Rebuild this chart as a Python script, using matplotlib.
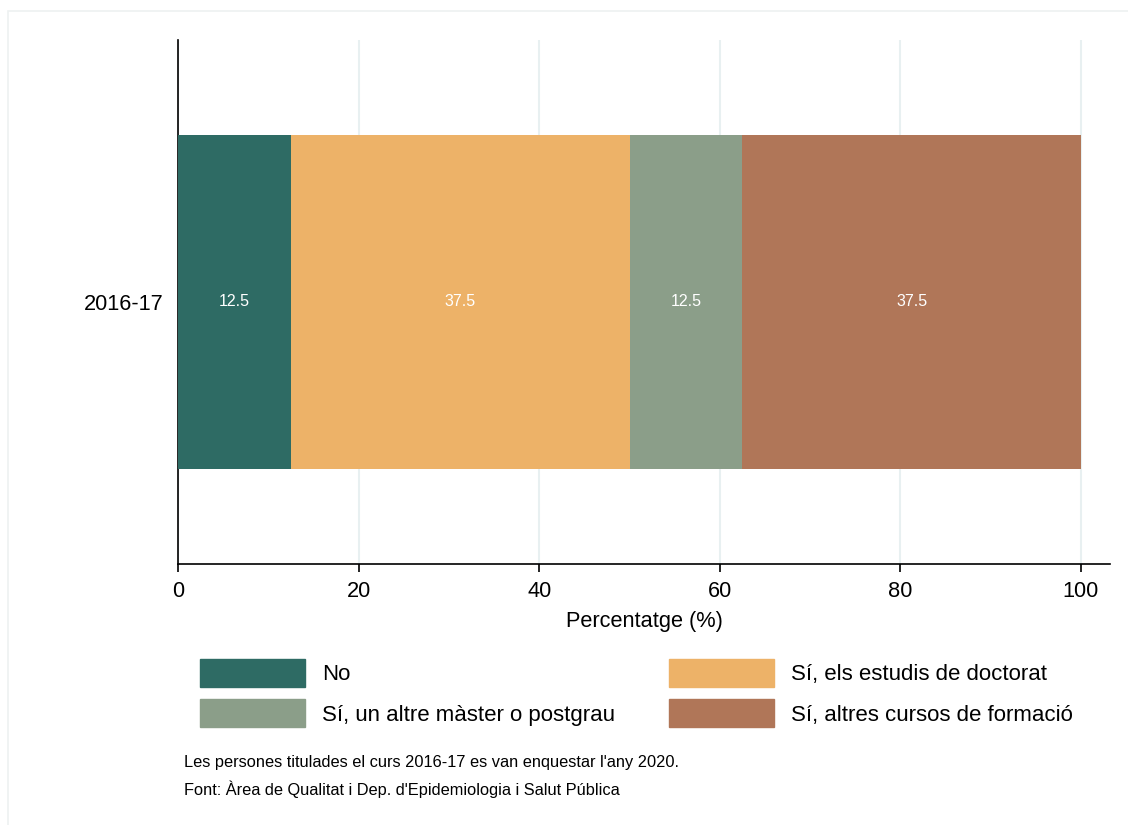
import matplotlib.pyplot as plt
from matplotlib.patches import Rectangle

plt.rcParams['font.family'] = ['Liberation Sans', 'DejaVu Sans']

years = ['2016-17']
categories = ['No', 'Sí, els estudis de doctorat',
              'Sí, un altre màster o postgrau', 'Sí, altres cursos de formació']
values = [12.5, 37.5, 12.5, 37.5]
colours = ['#2e6b64', '#edb268', '#8b9e89', '#b07658']
notes = ["Les persones titulades el curs 2016-17 es van enquestar l'any 2020.",
         "Font: Àrea de Qualitat i Dep. d'Epidemiologia i Salut Pública"]

W, H = 1128, 825
fig = plt.figure(figsize=(W / 100, H / 100), dpi=100)
fig.patch.set_facecolor('white')

# faint outer frame (only top and left edges are visible)
fig.patches.append(Rectangle((8 / W, -0.2), 1.2, 1.2 - 11 / H, transform=fig.transFigure,
                             fill=False, edgecolor='#eef1f1', lw=1.2))

ax = fig.add_axes([178 / W, 1 - 564 / H, (1110 - 178) / W, (564 - 40) / H])
ax.set_xlim(0, (1110 - 178) / ((1081 - 178) / 100))
ax.set_ylim(-0.5, 0.5)

left = 0
for cat, v, c in zip(categories, values, colours):
    ax.barh(0, v, left=left, height=0.637, color=c, label=cat, zorder=3)
    ax.text(left + v / 2, 0, '{0:g}'.format(v), color='white', ha='center',
            va='center', fontsize=11.5, zorder=4)
    left += v

ax.set_yticks([0])
ax.set_yticklabels(years, fontsize=15.7)
ax.set_xticks([0, 20, 40, 60, 80, 100])
ax.tick_params(axis='x', labelsize=15.7, length=6, width=1.2, pad=6)
ax.tick_params(axis='y', length=0, pad=10)
ax.grid(axis='x', color='#e8f0f1', lw=1.5, zorder=0)
for s in ['top', 'right']:
    ax.spines[s].set_visible(False)
for s in ['left', 'bottom']:
    ax.spines[s].set_linewidth(1.2)
ax.set_xlabel('Percentatge (%)', fontsize=15.7, labelpad=7)

handles = [Rectangle((0, 0), 1, 1, color=c) for c in colours]
order = [0, 2, 1, 3]
leg = fig.legend([handles[i] for i in order], [categories[i] for i in order],
                 ncol=2, loc='upper left', bbox_to_anchor=(200 / W, 1 - 659 / H),
                 frameon=False, fontsize=16, handlelength=4.73, handleheight=1.57,
                 handletextpad=0.77, columnspacing=2.43, labelspacing=0.55,
                 borderaxespad=0, borderpad=0)

fig.text(184 / W, 1 - 762 / H, notes[0], fontsize=11.8, va='center')
fig.text(184 / W, 1 - 789 / H, notes[1], fontsize=11.8, va='center')

fig.savefig('out.png', dpi=100, facecolor='white')
